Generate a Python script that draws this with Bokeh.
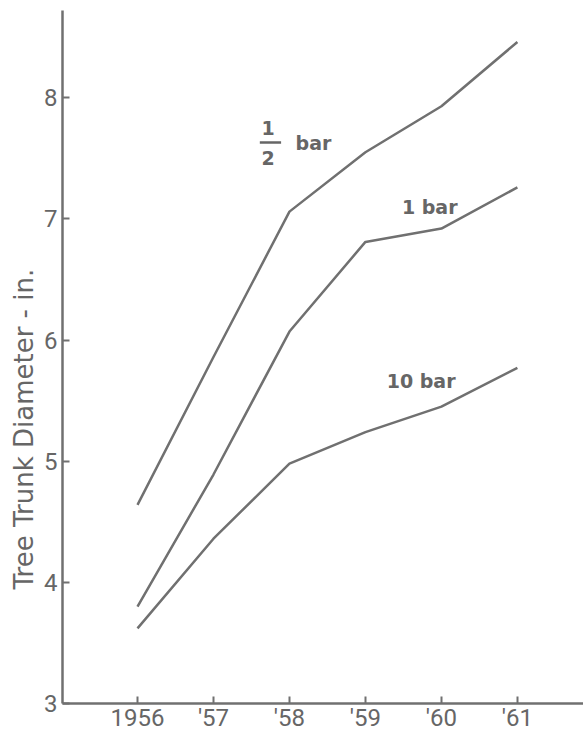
from bokeh.plotting import figure
from bokeh.models import FixedTicker, Range1d, Title
from bokeh.core.properties import value
from bokeh.embed import file_html
from bokeh.resources import INLINE

years = [1956, 1957, 1958, 1959, 1960, 1961]
year_labels = ["1956", "'57", "'58", "'59", "'60", "'61"]
half_bar = [4.64, 5.86, 7.06, 7.55, 7.93, 8.46]
one_bar = [3.80, 4.89, 6.07, 6.81, 6.92, 7.26]
ten_bar = [3.62, 4.36, 4.98, 5.24, 5.45, 5.77]
y_ticks = [3, 4, 5, 6, 7, 8]
y_title = "Tree Trunk Diameter - in."

GRAY = "#707070"
TXT = "#666666"
FONT = "Roboto"
LFONT = "DejaVu Sans"

p = figure(width=583, height=734, output_backend="svg", toolbar_location=None,
           x_range=Range1d(1955.013, 1961.87), y_range=Range1d(3, 8.72),
           min_border_left=62, min_border_top=10, min_border_right=0, min_border_bottom=30)
p.outline_line_color = None
p.xgrid.visible = False
p.ygrid.visible = False

for ys in (half_bar, one_bar, ten_bar):
    p.line(years, ys, line_color=GRAY, line_width=2.5)

# series labels
lab_kw = dict(text_color=TXT, text_font=value(LFONT), text_font_size="19px",
              text_font_style="bold", text_baseline="middle")
p.text(x=[1957.72], y=[7.75], text=["1"], text_align="center", **lab_kw)
p.segment(x0=[1957.61], y0=[7.63], x1=[1957.89], y1=[7.63], line_color=TXT, line_width=2.5)
p.text(x=[1957.72], y=[7.50], text=["2"], text_align="center", **lab_kw)
p.text(x=[1958.08], y=[7.63], text=["bar"], text_align="left", **lab_kw)
p.text(x=[1959.48], y=[7.10], text=["1 bar"], text_align="left", **lab_kw)
p.text(x=[1959.28], y=[5.66], text=["10 bar"], text_align="left", **lab_kw)

for ax in (p.xaxis[0], p.yaxis[0]):
    ax.axis_line_color = GRAY
    ax.axis_line_width = 2.5
    ax.major_tick_line_color = GRAY
    ax.major_tick_line_width = 2
    ax.major_tick_in = 7
    ax.major_tick_out = 0
    ax.minor_tick_line_color = None
    ax.major_label_text_color = TXT
    ax.major_label_text_font = FONT
    ax.major_label_text_font_size = "24px"

p.xaxis.ticker = FixedTicker(ticks=years)
p.xaxis.major_label_overrides = {y: l for y, l in zip(years, year_labels)}
p.xaxis.major_label_standoff = 0
p.yaxis.ticker = FixedTicker(ticks=y_ticks)
p.yaxis.major_label_standoff = 5

p.add_layout(Title(text=y_title, align="left", offset=114, standoff=6,
                   text_color=TXT, text_font=LFONT, text_font_size="26px",
                   text_font_style="normal"), "left")

open("out.html", "w").write(file_html(p, INLINE))
